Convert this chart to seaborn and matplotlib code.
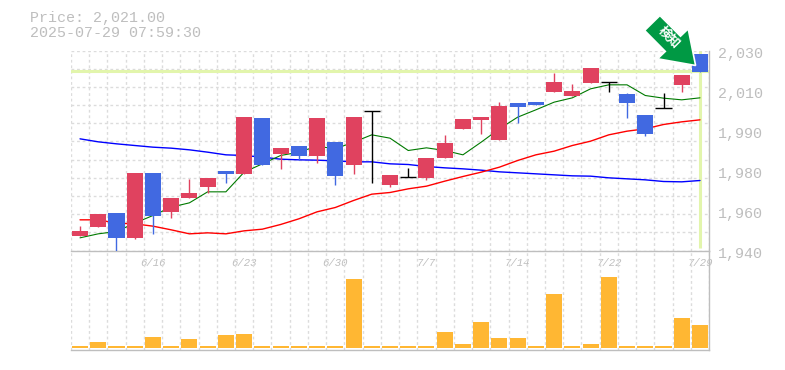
import numpy as np
import pandas as pd
import matplotlib
matplotlib.use("Agg")
import matplotlib.pyplot as plt
from matplotlib.patches import Polygon
from matplotlib.transforms import Affine2D
import seaborn as sns

sns.set_theme(style="white")
MONO = ["Liberation Mono", "DejaVu Sans Mono"]
GREY = "#BEBEBE"
GRID = "#DCDCDC"
RED = "#E0425F"
BLUE = "#4169E1"
PALE = "#E2F5AC"

opens = [1946.75, 1950.8, 1957.1, 1945.85, 1975.1, 1957.55, 1963.85, 1968.8, 1976.0, 1974.65, 1999.4, 1983.65, 1987.25, 1982.75, 1989.05, 1978.7, 2002.85, 1969.7, 1973.3, 1972.85, 1981.85, 1994.9, 1998.95, 1989.95, 2006.15, 2007.05, 2011.55, 2009.75, 2015.6, 2016.05, 2010.2, 2001.2, 2004.2, 2014.7, 2028.2]
closes = [1949.0, 1956.2, 1945.85, 1975.1, 1955.75, 1963.4, 1966.1, 1972.4, 1974.65, 2000.3, 1978.7, 1986.35, 1982.75, 1999.4, 1973.75, 2000.3, 2002.85, 1974.2, 1973.3, 1981.4, 1988.15, 1999.4, 2000.3, 2005.25, 2004.8, 2005.7, 2016.05, 2012.0, 2022.35, 2016.05, 2006.6, 1992.65, 2004.2, 2019.2, 2020.55]
highs = [1951.25, 1956.2, 1957.1, 1975.1, 1975.1, 1963.4, 1972.4, 1972.4, 1976.0, 2000.3, 1999.4, 1986.35, 1987.25, 1999.4, 1989.05, 2000.3, 2002.85, 1974.2, 1977.35, 1981.4, 1992.2, 1999.4, 2000.3, 2007.05, 2006.15, 2007.05, 2020.1, 2015.15, 2022.35, 2016.05, 2011.1, 2001.2, 2011.1, 2019.2, 2028.2]
lows = [1946.75, 1950.8, 1939.7, 1945.0, 1947.65, 1954.85, 1963.85, 1966.1, 1970.6, 1974.65, 1978.7, 1976.9, 1980.95, 1979.6, 1969.7, 1974.65, 1970.6, 1968.8, 1973.3, 1971.95, 1981.85, 1994.9, 1992.65, 1989.95, 1997.6, 2005.7, 2011.55, 2009.75, 2015.6, 2011.55, 1999.85, 1991.75, 2004.2, 2011.55, 2020.55]
ma_short = [1945.7, 1947.5, 1948.55, 1952.3, 1955.75, 1959.5, 1961.45, 1966.4, 1966.4, 1975.25, 1979.0, 1982.75, 1984.25, 1986.95, 1985.75, 1988.75, 1992.05, 1990.55, 1985.0, 1986.2, 1985.0, 1983.05, 1988.75, 1994.75, 2000.0, 2003.3, 2006.75, 2008.7, 2012.75, 2014.55, 2014.55, 2009.75, 2008.55, 2007.8, 2008.7]
ma_mid = [1953.8, 1953.8, 1952.3, 1952.0, 1950.95, 1949.3, 1947.5, 1947.95, 1947.5, 1948.85, 1949.6, 1951.7, 1954.25, 1957.4, 1959.35, 1962.5, 1965.35, 1966.1, 1967.75, 1968.95, 1971.2, 1973.3, 1975.25, 1977.5, 1980.5, 1983.05, 1984.7, 1987.25, 1989.2, 1992.05, 1993.7, 1994.75, 1996.7, 1997.9, 1998.8]
ma_long = [1990.25, 1988.9, 1988.0, 1987.25, 1986.5, 1986.05, 1985.3, 1984.25, 1983.05, 1982.75, 1982.0, 1981.1, 1980.8, 1980.65, 1980.35, 1979.9, 1979.9, 1979.0, 1978.7, 1977.8, 1977.2, 1976.75, 1976.15, 1975.4, 1974.95, 1974.5, 1974.05, 1973.6, 1973.45, 1972.7, 1972.25, 1971.8, 1971.05, 1970.9, 1971.5]
volumes = [2, 6, 2, 2, 11, 2, 9, 2, 13, 14, 2, 2, 2, 2, 2, 69, 2, 2, 2, 2, 16, 4, 26, 10, 10, 2, 54, 2, 4, 71, 2, 2, 2, 30, 23]
tick_idx = [4, 9, 14, 19, 24, 29, 34]
tick_labels = ["6/16", "6/23", "6/30", "7/7", "7/14", "7/22", "7/29"]
y_labels = ["2,030", "2,010", "1,990", "1,980", "1,960", "1,940"]
y_label_values = [2030, 2012, 1994, 1976, 1958, 1940]
last_price = 2021.0
title_lines = ["Price: 2,021.00", "2025-07-29 07:59:30"]
badge_text = "検知"

W, H = 785, 370
df = pd.DataFrame(dict(i=np.arange(len(opens)), o=opens, c=closes, h=highs, l=lows, v=volumes))
fig = plt.figure(figsize=(W / 100, H / 100), dpi=100, facecolor="white")
L, R = 70.9, 709.1
ax = fig.add_axes([L / W, 1 - 250.5 / H, (R - L) / W, 200 / H])
vx = fig.add_axes([L / W, 1 - 350 / H, (R - L) / W, 99.5 / H])

xlim = (-0.5, len(opens) - 0.5)
for a in (ax, vx):
    a.set_xlim(*xlim)
    a.set_facecolor("none")
    a.set_xticks(np.arange(-0.5, len(opens), 1))
    a.grid(True, axis="x", color=GRID, ls=(0, (2, 2)), lw=1)
    a.set_axisbelow(True)
    a.tick_params(left=False, bottom=False, labelleft=False, labelbottom=False)
    for s in a.spines.values():
        s.set_visible(False)
    for side in ("bottom", "right"):
        a.spines[side].set_visible(True)
        a.spines[side].set_color(GREY)
        a.spines[side].set_linewidth(1)

ax.set_ylim(1940, 2030)
ax.set_yticks(np.linspace(1940, 2030, 12))
ax.grid(True, axis="y", color=GRID, ls=(0, (2, 2)), lw=1)

ax.axhline(last_price, color=PALE, lw=2.2, zorder=1)
ax.vlines(df["i"].iloc[-1], 1941, 2030, color=PALE, lw=2.2, zorder=1)

idx = df["i"].to_numpy()
for vals, col, lw in ((ma_long, "#0000FF", 1.0), (ma_mid, "#FF0000", 1.0), (ma_short, "#007A00", 0.8)):
    sns.lineplot(x=idx, y=vals, color=col, lw=lw, ax=ax, zorder=2, legend=False, errorbar=None)

for r in df.itertuples():
    if r.c == r.o:
        col = "black"
    else:
        col = RED if r.c > r.o else BLUE
    ax.vlines(r.i, r.l, r.h, color=col, lw=1.0, zorder=3)
    if r.c == r.o:
        ax.hlines(r.o, r.i - 0.44, r.i + 0.44, color="black", lw=1.0, zorder=3)
    else:
        ax.bar(r.i, abs(r.c - r.o), bottom=min(r.o, r.c), width=0.88, color=col, lw=0, zorder=4)

vx.bar(idx, df["v"].to_numpy(), width=0.88, color="#FFB733", lw=0, zorder=3)
vx.set_xlim(*xlim)
vx.set_ylim(-2, 97.5)

for i, lab in zip(tick_idx, tick_labels):
    ax.annotate(lab, xy=(i, 1940), xytext=(0, -9), textcoords="offset points", ha="center", va="center",
                family=MONO, fontsize=7.7, color=GREY, style="italic", annotation_clip=False)
for v, lab in zip(y_label_values, y_labels):
    ax.annotate(lab, xy=(xlim[1], v), xytext=(6.2, -2.2), textcoords="offset points", ha="left", va="center",
                family=MONO, fontsize=10.8, color=GREY, annotation_clip=False)

for t, y in zip(title_lines, (18, 33)):
    fig.text(29.5 / W, 1 - y / H, t, family=MONO, fontsize=10.8, color=GREY, ha="left", va="center")

# pointer badge: shape in pixels relative to its tip, anchored near the last candle
shape = np.array([[-35.7, -50], [-51, -35], [-30.3, -14.1], [-38, -6.7], [0, 0], [-7.4, -36.7], [-15.1, -29.3]])
shape = shape * [1, -1]
fig.canvas.draw()
tipx, tipy = ax.transData.transform((33.76, 2023.25))
tr = Affine2D().translate(tipx, tipy)
fig.add_artist(Polygon(shape, closed=True, transform=tr, facecolor="#009944", edgecolor="white", lw=1.2, zorder=10, joinstyle="miter"))
fig.text((tipx - 26.4) / W, (tipy + 28.3) / H, badge_text, rotation=-45, ha="center", va="center", rotation_mode="anchor",
         family=["Noto Sans CJK JP", "DejaVu Sans"], fontsize=9, weight="bold", color="white", zorder=11)

fig.savefig("out.png", dpi=100, facecolor="white")
